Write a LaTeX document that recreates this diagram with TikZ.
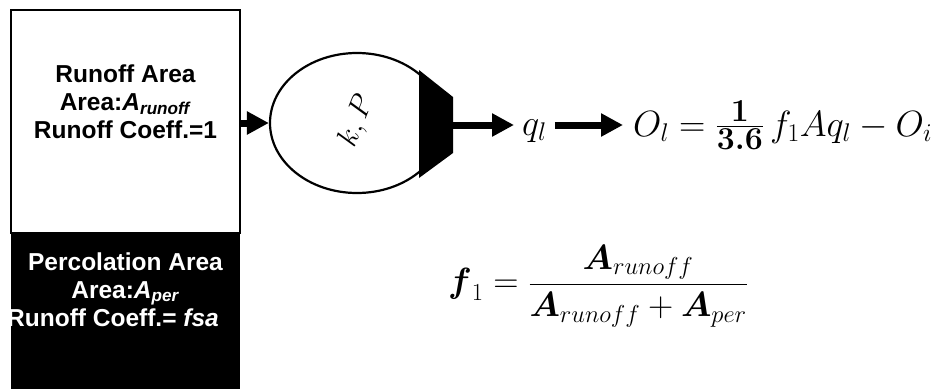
\RequirePackage{fix-cm}
\documentclass[tikz,border=0pt]{standalone}
\usepackage{amsmath}
\usepackage{fontspec}
\newfontfamily\boxfont{Liberation Sans}
\usetikzlibrary{arrows.meta,shapes.geometric}
\newcommand{\bignum}[1]{\hbox{\fontsize{32}{32}\selectfont\bfseries #1}}

\begin{document}
\begin{tikzpicture}[x=1pt,y=-1pt,
  areabox/.style={draw,line width=1.5pt,minimum width=229pt,minimum height=223pt,inner sep=0pt},
  areatext/.style={font=\boxfont\bfseries\fontsize{24.5}{28}\selectfont,align=center,inner sep=0pt},
  flow/.style={line width=7pt,-{Triangle[length=22pt,width=22pt]}},
  eq/.style={font=\fontsize{36.5}{40}\selectfont,inner sep=0pt}]
\useasboundingbox (0,0) rectangle (943,389);
% catchment: runoff part and percolation part
\node[areabox] (runoff) at (125.5,121.5) {};
\fill (11,233) rectangle (240,389);
\coordinate (perNW) at (11,233);\coordinate (perSE) at (240,389);
\node[areatext] (runofftxt) at (125.5,102) {Runoff Area\\Area:\textit{A}\textsubscript{\textit{runoff}}\\Runoff Coeff.=1};
\node[areatext,text=white] (pertxt) at (125.5,279) {Percolation Area\\Area:\textit{A}\textsubscript{\textit{per}}};
\begin{scope}
\clip (perNW) rectangle (perSE);
\node[areatext,text=white,anchor=base west] (percoef) at (7,326) {Runoff Coeff.= \textit{fsa}};
\end{scope}
% reservoir and outlet
\node[ellipse,draw,line width=2.2pt,minimum width=174pt,minimum height=140pt] (res) at (357,123) {};
\node[rotate=68,font=\fontsize{30}{30}\selectfont] (kp) at (357,121) {$k,P$};
\fill (419,70) -- (453,97) -- (453,153) -- (419,178) -- cycle;
\coordinate (out) at (453,125);
\draw[flow] (runoff.east |- res.west) -- (res.west);
% outflow
\node[eq,anchor=base west,inner xsep=8pt] (q) at (514,135) {$q_l$};
\node[eq,anchor=base west] (Oeq) at (633,136) {$O_l=\frac{\bignum{1}}{\bignum{3.6}}\,f_1Aq_l-O_i$};
\draw[flow] (out) -- (out -| q.west);
\draw[flow,shorten >=10pt] (q.east |- out) -- (Oeq.west |- out);
% runoff fraction
\node[eq,font=\fontsize{35}{40}\selectfont,anchor=west] (feq) at (448,286) {$\displaystyle\boldsymbol{f}_1=\frac{\boldsymbol{A}_{runoff}}{\boldsymbol{A}_{runoff}+\boldsymbol{A}_{per}}$};
\end{tikzpicture}
\end{document}
